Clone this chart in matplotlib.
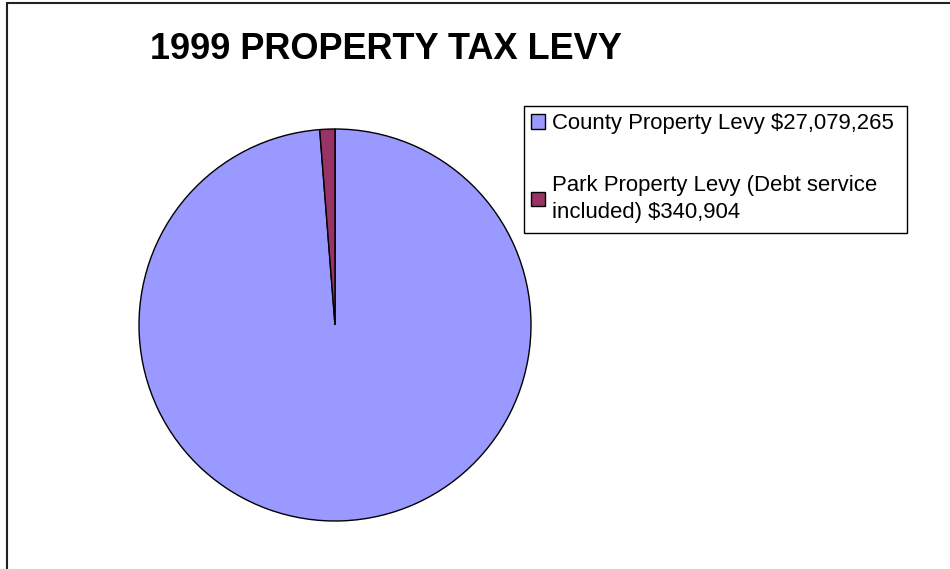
import matplotlib.pyplot as plt
from matplotlib.patches import Rectangle

plt.rcParams['font.family'] = ['Liberation Sans', 'DejaVu Sans']

# data
labels = ['County Property Levy $27,079,265',
          'Park Property Levy (Debt service\nincluded) $340,904']
levy = [27079265, 340904]
colors = ['#9999FF', '#993366']

W, H = 950, 569
fig = plt.figure(figsize=(9.5, 5.69), dpi=100)

# outer chart border (left and top edges visible)
fig.add_artist(Rectangle((6.5 / W, -0.05), 1.2, 1.05 - 3 / H,
                         transform=fig.transFigure, fill=False,
                         edgecolor='#222222', linewidth=1.5))

fig.text(150 / W, 1 - 59 / H, '1999 PROPERTY TAX LEVY',
         fontsize=26, fontweight='bold', va='baseline', ha='left')

ax = fig.add_axes([139 / W, 48 / H, 392 / W, 392 / H])
wedges, _ = ax.pie(levy, colors=colors, startangle=90, counterclock=False,
                   wedgeprops=dict(edgecolor='black', linewidth=1))
ax.set_xlim(-1, 1)
ax.set_ylim(-1, 1)
ax.set_aspect('equal')
ax.axis('off')

# legend box
fig.add_artist(Rectangle((524 / W, 1 - 233 / H), 383 / W, 127 / H,
                         transform=fig.transFigure, fill=False,
                         edgecolor='black', linewidth=1))
leg = fig.legend(wedges, labels, loc='upper left',
                 bbox_to_anchor=(524 / W, 1 - 106 / H),
                 fontsize=15.9, frameon=False,
                 handlelength=0.62, handleheight=0.62, handletextpad=0.3,
                 labelspacing=1.85, borderpad=0.33, borderaxespad=0)
for t in leg.get_texts():
    t.set_linespacing(1.35)

plt.savefig('out.png')
